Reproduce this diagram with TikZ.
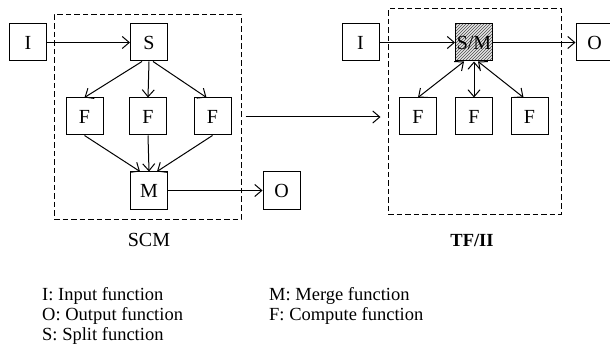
\documentclass[tikz,border=0pt]{standalone}
\usepackage{fontspec}
\setmainfont{Liberation Serif}
\usetikzlibrary{arrows.meta,patterns}
\begin{document}
\begin{tikzpicture}[x=1pt,y=-1pt,
  txt/.style={font=\fontsize{18.5}{20}\selectfont},
  btxt/.style={font=\fontsize{20}{21}\selectfont},
  box/.style={draw, line width=1pt, minimum size=37pt, inner sep=0pt, btxt},
  frame/.style={draw, dash pattern=on 5.5pt off 3pt, line width=1pt, inner sep=0pt},
  arr/.style={line width=1pt, -{Straight Barb[length=7pt,width=12pt]}},
  darr/.style={line width=1pt, {Straight Barb[length=7pt,width=12pt]}-{Straight Barb[length=7pt,width=12pt]}},
  leg/.style={txt, anchor=base west, inner sep=0pt}]
\useasboundingbox (0,0) rectangle (610,358);
% SCM
\node[frame, minimum width=187pt, minimum height=204pt] (scm) at (147.5,117) {};
\node[box] (I1) at (28,42.5) {I};
\node[box] (S) at (149,42.5) {S};
\node[box] (F1) at (84.5,116.5) {F};
\node[box] (F2) at (148,116.5) {F};
\node[box] (F3) at (212.5,116.5) {F};
\node[box] (M) at (149,190.5) {M};
\node[box] (O1) at (281.5,190.5) {O};
\node[btxt] (scml) at (149,240) {SCM};
\draw[arr] (I1.east) -- (S.west);
\draw[arr] ([xshift=-7pt]S.south) -- (F1.north);
\draw[arr] (S.south) -- (F2.north);
\draw[arr] ([xshift=4pt]S.south) -- ([xshift=-6pt]F3.north);
\draw[arr] (F1.south) -- ([xshift=-9pt]M.north);
\draw[arr] (F2.south) -- (M.north);
\draw[arr] (F3.south) -- ([xshift=8pt]M.north);
\draw[arr] (M.east) -- (O1.west);
% TF/II
\node[frame, minimum width=173pt, minimum height=205pt] (tf) at (474.5,111.5) {};
\node[box] (I2) at (360.5,42.5) {I};
\node[box, preaction={fill=gray!20}, pattern=north east lines, pattern color=black!70] (SM) at (474,42.5) {S/M};
\node[box] (O2) at (594.5,42.5) {O};
\node[box] (F4) at (418,116.5) {F};
\node[box] (F5) at (474,116.5) {F};
\node[box] (F6) at (529.5,116.5) {F};
\node[font=\fontsize{18.5}{20}\selectfont\bfseries] (tfl) at (472,240) {TF/II};
\draw[arr] (I2.east) -- (SM.west);
\draw[arr] (SM.east) -- (O2.west);
\draw[darr] ([xshift=-10pt]SM.south) -- (F4.north);
\draw[darr] (SM.south) -- (F5.north);
\draw[darr] ([xshift=4pt]SM.south) -- ([xshift=-6pt]F6.north);
% between
\draw[arr] ([xshift=4pt]scm.east) -- ([xshift=-7pt]tf.west |- scm.east);
% legend
\node[leg] (l1) at (42,300) {I: Input function};
\node[leg] (l2) at (42,320) {O: Output function};
\node[leg] (l3) at (42,340) {S: Split function};
\node[leg] (l4) at (269,300) {M: Merge function};
\node[leg] (l5) at (269,320) {F: Compute function};
\end{tikzpicture}
\end{document}
